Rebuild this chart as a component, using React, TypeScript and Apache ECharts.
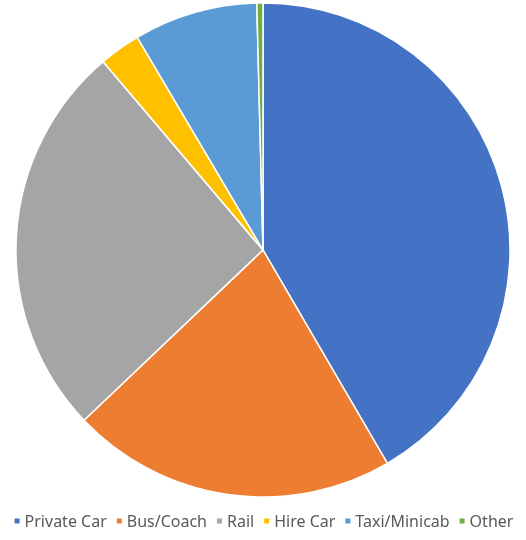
import React, { useEffect, useRef } from "react";
import * as echarts from "echarts";

const categories = ["Private Car", "Bus/Coach", "Rail", "Hire Car", "Taxi/Minicab", "Other"];
const values = [41.6, 21.3, 25.9, 2.7, 8.1, 0.4];
const colors = ["#4472C4", "#ED7D31", "#A5A5A5", "#FFC000", "#5B9BD5", "#70AD47"];

export default function App() {
  const ref = useRef<HTMLDivElement>(null);
  useEffect(() => {
    if (!ref.current) return;
    const chart = echarts.init(ref.current, null, { renderer: "svg" });
    chart.setOption({
      animation: false,
      color: colors,
      legend: {
        data: categories,
        left: "center",
        top: 508,
        icon: "rect",
        itemWidth: 7,
        itemHeight: 7,
        itemGap: 8,
        textStyle: { color: "#595959", fontSize: 16, fontFamily: "Noto Sans", padding: [0, 0, 0, -1] },
      },
      series: [
        {
          type: "pie",
          center: [263, 250],
          radius: [0, 247],
          startAngle: 90,
          clockwise: true,
          label: { show: false },
          labelLine: { show: false },
          itemStyle: { borderColor: "#ffffff", borderWidth: 1.5 },
          data: categories.map((c, i) => ({ name: c, value: values[i] })),
        },
      ],
    });
    return () => chart.dispose();
  }, []);
  return <div ref={ref} style={{ position: "fixed", left: 0, top: 0, width: 526, height: 540 }} />;
}
